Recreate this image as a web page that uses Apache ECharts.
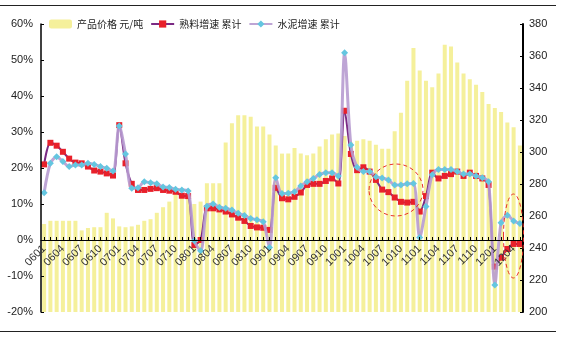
<!DOCTYPE html>
<html>
<head>
<meta charset="utf-8">
<script src="https://cdn.jsdelivr.net/npm/echarts@6/dist/echarts.min.js"></script>
<style>
  html, body { margin: 0; padding: 0; background: #fff; }
  #chart { width: 563px; height: 338px; }
</style>
</head>
<body>
<div id="chart"></div>
<script>
// Monthly categories, Jan 2006 – May 2012
var months = [
  '0601','0602','0603','0604','0605','0606','0607','0608','0609','0610','0611','0612',
  '0701','0702','0703','0704','0705','0706','0707','0708','0709','0710','0711','0712',
  '0801','0802','0803','0804','0805','0806','0807','0808','0809','0810','0811','0812',
  '0901','0902','0903','0904','0905','0906','0907','0908','0909','0910','0911','0912',
  '1001','1002','1003','1004','1005','1006','1007','1008','1009','1010','1011','1012',
  '1101','1102','1103','1104','1105','1106','1107','1108','1109','1110','1111','1112',
  '1201','1202','1203','1204','1205'
];

// Product price, yuan per tonne (right axis)
var price = [
  255, 257, 257, 257, 257, 257, 251, 252.5, 253, 253, 262, 258.5,
  253.5, 253, 253.5, 254.5, 257, 258, 262, 265.5, 269, 274, 273, 271,
  267.5, 269, 280.5, 280.5, 280.5, 306, 318, 323, 323, 322, 316, 316,
  311, 304, 299, 299, 302.5, 299, 298, 299, 303.5, 308, 311, 311.5,
  310, 306, 307, 308, 307, 304.5, 302, 302, 313, 324.5, 344.5, 365,
  351, 344.5, 340.5, 349, 367, 366, 356, 349, 345.5, 342, 337.5, 330,
  327.5, 325, 318.5, 315.5, 304
];

// Clinker output growth, year-to-date (%)
var clinker = [
  21.0, 27.0, 26.2, 24.5, 22.6, 21.5, 21.3, 20.4, 19.3, 19.0, 18.5, 17.9,
  31.9, 21.3, 15.6, 13.9, 13.9, 14.2, 14.4, 13.9, 13.7, 13.4, 12.3, 12.2,
  -1.4, 0.0, 8.8, 8.8, 8.5, 7.9, 7.1, 6.2, 5.3, 3.9, 3.5, 3.4,
  2.8, 14.5, 11.6, 11.3, 12.0, 13.2, 15.3, 15.6, 15.6, 16.4, 17.1, 15.7,
  35.9, 23.9, 19.4, 20.2, 19.0, 16.7, 14.0, 13.3, 11.8, 10.6, 10.4, 10.6,
  7.9, 12.2, 18.7, 17.1, 17.8, 18.3, 19.0, 17.8, 18.7, 17.8, 17.1, 15.3,
  -7.4, -4.9, -2.5, -1.1, -1.1
];

// Cement output growth, year-to-date (%)
var cement = [
  13.1, 21.3, 23.1, 21.8, 20.4, 20.8, 20.8, 21.3, 21.0, 20.4, 19.9, 19.2,
  31.7, 23.9, 14.4, 14.5, 16.2, 15.9, 15.6, 14.7, 14.6, 14.1, 13.9, 13.6,
  -0.2, -3.0, 9.4, 10.0, 9.1, 8.8, 8.3, 7.4, 6.8, 6.0, 5.6, 5.1,
  -2.1, 17.3, 12.9, 13.0, 13.4, 15.0, 16.2, 17.1, 18.2, 18.7, 18.7, 17.8,
  52.0, 26.4, 20.2, 19.0, 19.0, 17.6, 17.2, 16.7, 15.3, 15.3, 15.6, 15.7,
  0.7, 9.3, 18.1, 19.6, 19.6, 19.6, 19.0, 18.3, 18.3, 17.8, 17.3, 16.2,
  -12.5, 4.8, 6.9, 5.3, 4.6
];

var seriesNames = ['产品价格 元/吨', '熟料增速 累计', '水泥增速 累计'];

var axisFont = '"Liberation Sans", Arial, sans-serif';
var cjkFont = '"Noto Sans CJK SC", "Liberation Sans", sans-serif';

var chart = echarts.init(document.getElementById('chart'), null, { renderer: 'canvas' });

var gridBox = { left: 41, right: 40, top: 24, bottom: 26 };

chart.setOption({
  backgroundColor: '#ffffff',
  animation: false,
  grid: [
    // main plotting area
    { left: gridBox.left, right: gridBox.right, top: gridBox.top, bottom: gridBox.bottom,
      containLabel: false, outerBoundsMode: 'none' },
    // same width, bottom edge on the 0% line: carries the month labels
    { left: gridBox.left, right: gridBox.right, top: gridBox.top, bottom: 98,
      containLabel: false, outerBoundsMode: 'none' }
  ],
  legend: {
    left: 49,
    top: 19,
    padding: 0,
    itemWidth: 23,
    itemHeight: 9,
    itemGap: 7,
    textStyle: { fontFamily: cjkFont, fontSize: 10, color: '#222' },
    data: seriesNames
  },
  xAxis: [
    {
      type: 'category',
      gridIndex: 0,
      data: months,
      boundaryGap: true,
      z: 10,
      axisLine: { show: true, onZero: true, onZeroAxisIndex: 0, lineStyle: { color: '#000', width: 1 } },
      axisTick: { show: true, inside: true, length: 3, interval: 0, alignWithLabel: true,
                  lineStyle: { color: '#000' } },
      axisLabel: { show: false },
      splitLine: { show: false }
    },
    {
      type: 'category',
      gridIndex: 1,
      data: months,
      boundaryGap: true,
      z: 10,
      axisLine: { show: false },
      axisTick: { show: false },
      axisLabel: { interval: 2, rotate: 45, margin: 7, fontFamily: axisFont, fontSize: 11, color: '#333' },
      splitLine: { show: false }
    }
  ],
  yAxis: [
    {
      type: 'value',
      gridIndex: 0,
      min: -20, max: 60, interval: 10,
      position: 'left',
      z: 10,
      axisLine: { show: true, onZero: false, lineStyle: { color: '#000', width: 1.5 } },
      axisTick: { show: true, inside: true, length: 3, lineStyle: { color: '#000', width: 1 } },
      axisLabel: { formatter: '{value}%', margin: 8, fontFamily: axisFont, fontSize: 11, color: '#222' },
      splitLine: { show: false }
    },
    {
      type: 'value',
      gridIndex: 0,
      min: 200, max: 380, interval: 20,
      position: 'right',
      z: 10,
      axisLine: { show: true, onZero: false, lineStyle: { color: '#000', width: 2 } },
      axisTick: { show: true, inside: true, length: 3, lineStyle: { color: '#000', width: 1 } },
      axisLabel: { margin: 6, fontFamily: axisFont, fontSize: 11, color: '#222' },
      splitLine: { show: false }
    },
    {
      type: 'value',
      gridIndex: 1,
      show: false
    }
  ],
  series: [
    {
      name: seriesNames[0],
      type: 'bar',
      xAxisIndex: 0,
      yAxisIndex: 1,
      data: price,
      barWidth: 4,
      itemStyle: { color: '#F5F09B' },
      z: 1
    },
    {
      name: seriesNames[1],
      type: 'line',
      xAxisIndex: 0,
      yAxisIndex: 0,
      data: clinker,
      smooth: 0.3,
      showAllSymbol: true,
      symbol: 'rect',
      symbolSize: 6,
      itemStyle: { color: '#E8202A' },
      lineStyle: { color: '#7B2A84', width: 2 },
      z: 3
    },
    {
      name: seriesNames[2],
      type: 'line',
      xAxisIndex: 0,
      yAxisIndex: 0,
      data: cement,
      smooth: 0.3,
      showAllSymbol: true,
      symbol: 'diamond',
      symbolSize: 7,
      itemStyle: { color: '#64C6E0' },
      lineStyle: { color: '#B79BD0', width: 3, opacity: 0.9 },
      z: 4
    }
  ],
  graphic: [
    { type: 'line', silent: true, shape: { x1: 0, y1: 5.5, x2: 556, y2: 5.5 },
      style: { stroke: '#222', lineWidth: 1 } },
    { type: 'line', silent: true, shape: { x1: 0, y1: 331.5, x2: 556, y2: 331.5 },
      style: { stroke: '#222', lineWidth: 1 } },
    { type: 'ellipse', silent: true, z: 100, shape: { cx: 396, cy: 190, rx: 27, ry: 26 },
      style: { fill: 'none', stroke: '#E8322A', lineWidth: 1, lineDash: [4, 3] } },
    { type: 'ellipse', silent: true, z: 100, shape: { cx: 513.5, cy: 236, rx: 10, ry: 42 },
      style: { fill: 'none', stroke: '#E8322A', lineWidth: 1, lineDash: [4, 3] } }
  ]
});
</script>
</body>
</html>
